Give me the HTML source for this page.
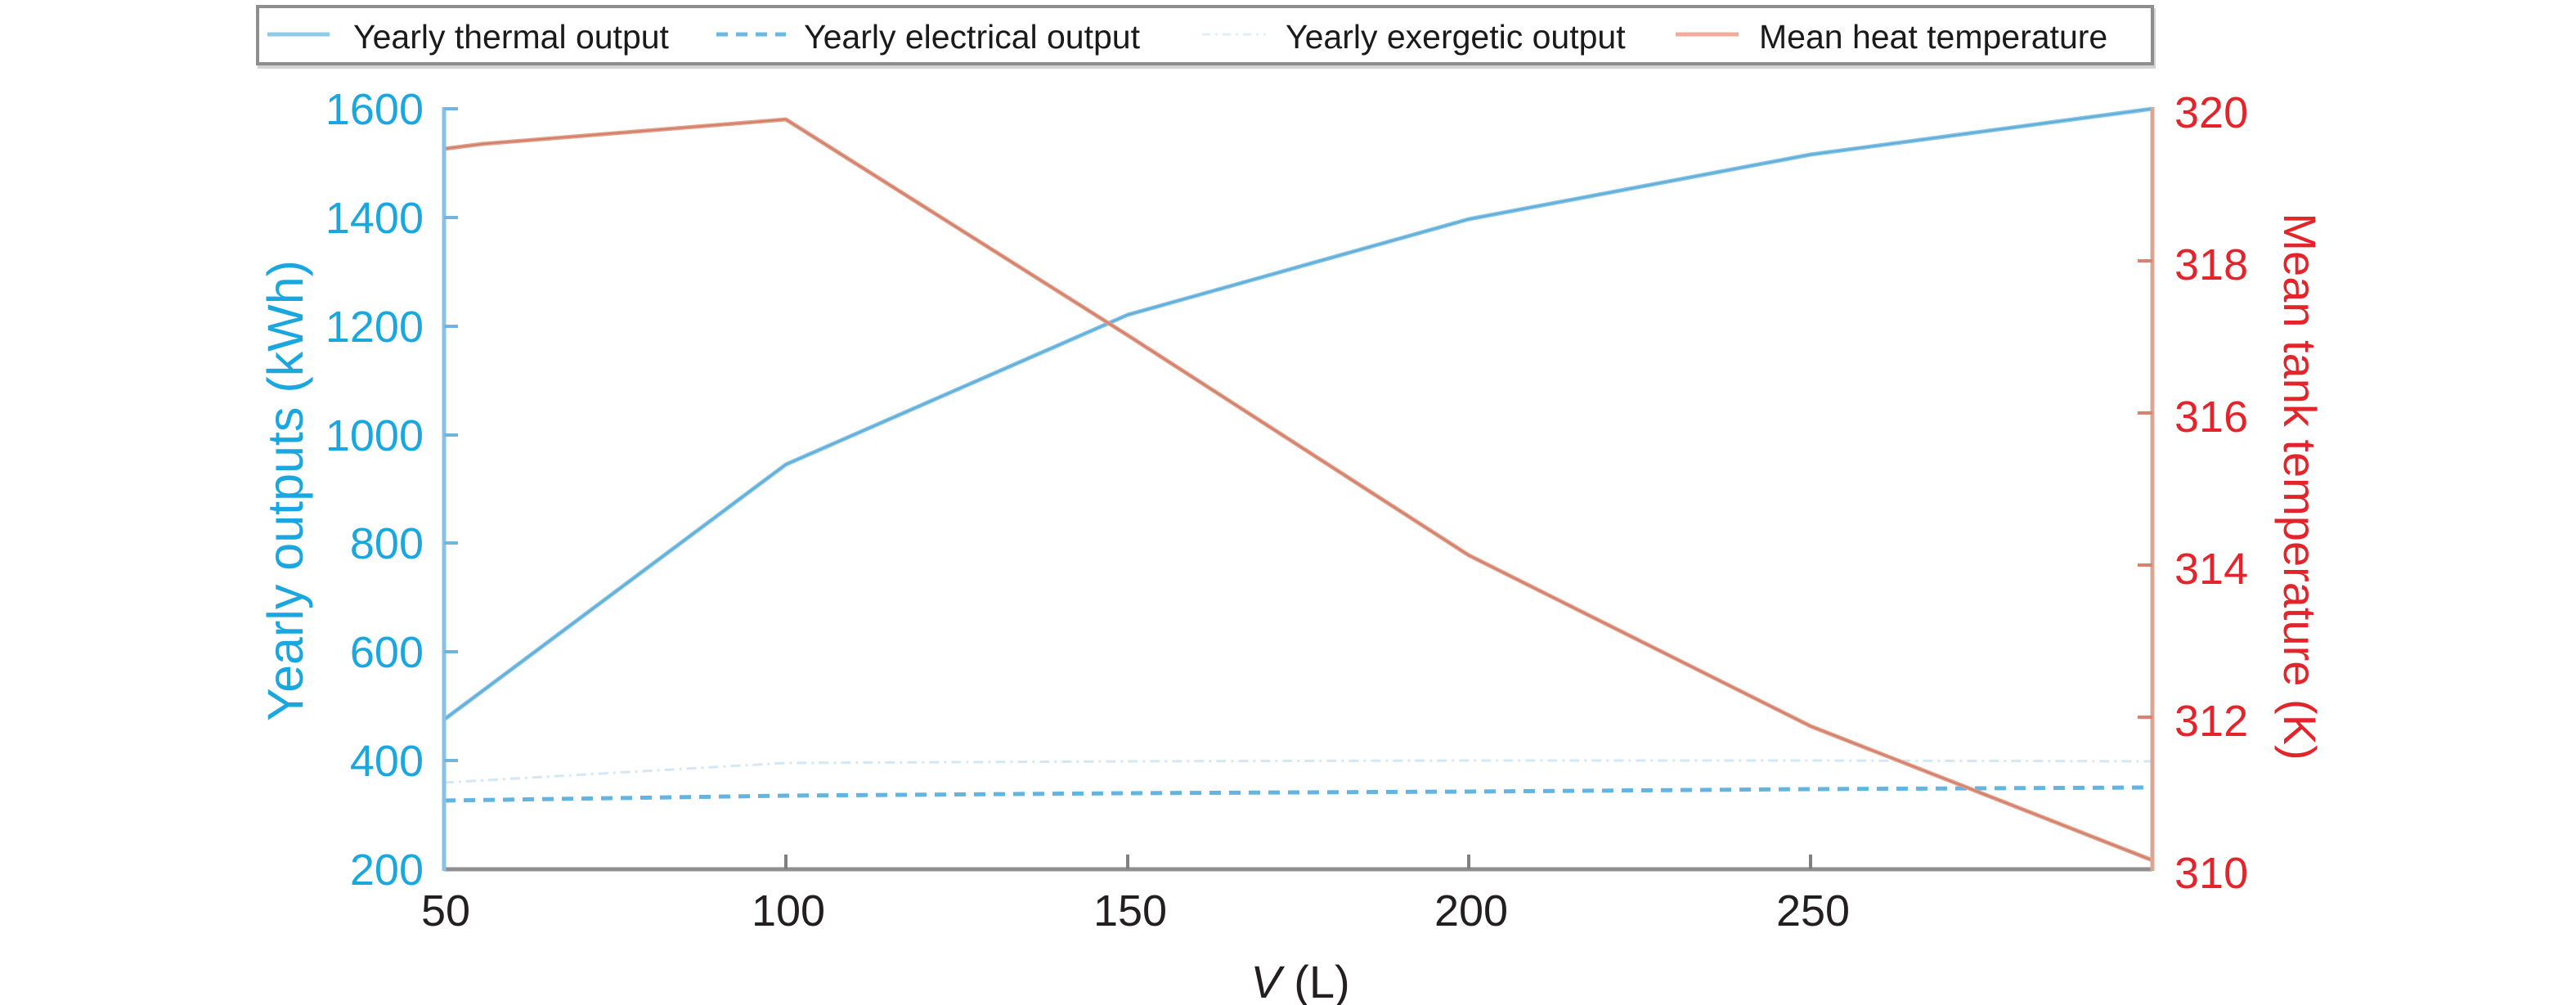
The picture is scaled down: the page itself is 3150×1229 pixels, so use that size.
<!DOCTYPE html>
<html>
<head>
<meta charset="utf-8">
<style>
  html,body{margin:0;padding:0;background:#fff;}
  svg{display:block;}
  text{font-family:"Liberation Sans",Arial,sans-serif;}
</style>
</head>
<body>
<svg width="3150" height="1229" viewBox="0 0 3150 1229" xmlns="http://www.w3.org/2000/svg">
  <rect x="0" y="0" width="3150" height="1229" fill="#ffffff"/>

  <!-- Legend -->
  <rect x="317" y="12" width="2317" height="70" fill="none" stroke="#d4d4d4" stroke-width="4"/>
  <rect x="315" y="8" width="2317" height="70" fill="#ffffff" stroke="#8e8e8e" stroke-width="4"/>
  <line x1="327" y1="42" x2="403" y2="42" stroke="#8dcbe9" stroke-width="5"/>
  <text x="432" y="59" font-size="41" fill="#1a1a1a">Yearly thermal output</text>
  <line x1="876" y1="42" x2="961" y2="42" stroke="#6bb8e2" stroke-width="5" stroke-dasharray="14,10"/>
  <text x="983" y="59" font-size="41" fill="#1a1a1a">Yearly electrical output</text>
  <line x1="1470" y1="42" x2="1548" y2="42" stroke="#e2eff7" stroke-width="3" stroke-dasharray="10,6,3,6"/>
  <text x="1572" y="59" font-size="41" fill="#1a1a1a">Yearly exergetic output</text>
  <line x1="2049" y1="42" x2="2126" y2="42" stroke="#f2ab98" stroke-width="5"/>
  <text x="2151" y="59" font-size="41" fill="#1a1a1a">Mean heat temperature</text>

  <!-- Series: exergetic (faint) -->
  <polyline fill="none" stroke="#d3e8f4" stroke-width="3" stroke-dasharray="12,6,3,6"
    points="543,957 961,933 1379,931 1796,930 2214,930 2632,931"/>

  <!-- Series: electrical (dashed) -->
  <polyline fill="none" stroke="#62b4e1" stroke-width="5" stroke-dasharray="14,10"
    points="543,979 961,973 1379,970 1796,968 2214,965 2632,963"/>

  <!-- Series: thermal -->
  <polyline fill="none" stroke="#7fc2e6" stroke-width="5" stroke-linejoin="round"
    points="543,880 961,568 1379,385 1796,268 2214,189 2632,133"/>
  <polyline fill="none" stroke="#5aa7d4" stroke-width="1.5" stroke-linejoin="round"
    points="543,880 961,568 1379,385 1796,268 2214,189 2632,133"/>

  <!-- Series: mean temperature -->
  <polyline fill="none" stroke="#e59c86" stroke-width="5" stroke-linejoin="round"
    points="543,182 590,176 961,146 1379,410 1796,679 2214,888 2632,1052"/>
  <polyline fill="none" stroke="#c97a66" stroke-width="1.5" stroke-linejoin="round"
    points="543,182 590,176 961,146 1379,410 1796,679 2214,888 2632,1052"/>

  <!-- Axes -->
  <line x1="543" y1="1063" x2="2632" y2="1063" stroke="#8f8f8f" stroke-width="5"/>
  <line x1="543" y1="131" x2="543" y2="1065" stroke="#87c3e6" stroke-width="5"/>
  <line x1="2632" y1="131" x2="2632" y2="1065" stroke="#d9a595" stroke-width="5"/>

  <!-- Left ticks -->
  <g stroke="#6fb5de" stroke-width="4">
    <line x1="543" y1="133" x2="560" y2="133"/>
    <line x1="543" y1="266" x2="560" y2="266"/>
    <line x1="543" y1="399" x2="560" y2="399"/>
    <line x1="543" y1="532" x2="560" y2="532"/>
    <line x1="543" y1="664" x2="560" y2="664"/>
    <line x1="543" y1="797" x2="560" y2="797"/>
    <line x1="543" y1="930" x2="560" y2="930"/>
  </g>
  <!-- Bottom ticks -->
  <g stroke="#808080" stroke-width="4">
    <line x1="961" y1="1063" x2="961" y2="1045"/>
    <line x1="1379" y1="1063" x2="1379" y2="1045"/>
    <line x1="1796" y1="1063" x2="1796" y2="1045"/>
    <line x1="2214" y1="1063" x2="2214" y2="1045"/>
  </g>
  <!-- Right ticks -->
  <g stroke="#d8836f" stroke-width="4">
    <line x1="2632" y1="319" x2="2614" y2="319"/>
    <line x1="2632" y1="505" x2="2614" y2="505"/>
    <line x1="2632" y1="691" x2="2614" y2="691"/>
    <line x1="2632" y1="877" x2="2614" y2="877"/>
  </g>

  <!-- Left tick labels -->
  <g font-size="54" fill="#1aa7e0" text-anchor="end">
    <text x="518" y="152">1600</text>
    <text x="518" y="285">1400</text>
    <text x="518" y="418">1200</text>
    <text x="518" y="551">1000</text>
    <text x="518" y="683">800</text>
    <text x="518" y="816">600</text>
    <text x="518" y="949">400</text>
    <text x="518" y="1082">200</text>
  </g>

  <!-- Right tick labels -->
  <g font-size="54" fill="#e3242b" text-anchor="start">
    <text x="2659" y="156">320</text>
    <text x="2659" y="342">318</text>
    <text x="2659" y="528">316</text>
    <text x="2659" y="714">314</text>
    <text x="2659" y="900">312</text>
    <text x="2659" y="1086">310</text>
  </g>

  <!-- X tick labels -->
  <g font-size="54" fill="#231f20" text-anchor="middle">
    <text x="545" y="1132">50</text>
    <text x="964" y="1132">100</text>
    <text x="1382" y="1132">150</text>
    <text x="1799" y="1132">200</text>
    <text x="2217" y="1132">250</text>
  </g>

  <!-- Axis titles -->
  <text x="1590" y="1220" font-size="56" fill="#231f20" text-anchor="middle"><tspan font-style="italic">V</tspan> (L)</text>
  <text transform="translate(370,600) rotate(-90)" font-size="61" fill="#1aa7e0" text-anchor="middle">Yearly outputs (kWh)</text>
  <text transform="translate(2793,595) rotate(90)" font-size="56" fill="#e3242b" text-anchor="middle">Mean tank temperature (K)</text>
</svg>
</body>
</html>
